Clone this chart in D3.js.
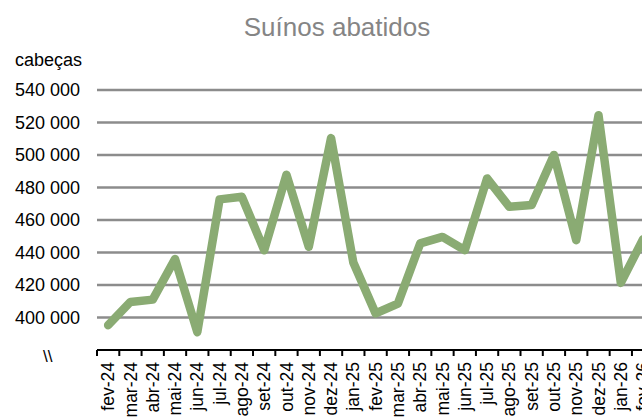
<!DOCTYPE html>
<html>
<head>
<meta charset="utf-8">
<script src="https://cdn.jsdelivr.net/npm/d3@7"></script>
<style>
  html, body { margin: 0; padding: 0; background: #fff; overflow: hidden; }
  svg { display: block; }
</style>
</head>
<body>
<div id="chart"></div>
<script>
const categories = ["fev-24","mar-24","abr-24","mai-24","jun-24","jul-24","ago-24","set-24","out-24","nov-24","dez-24",
  "jan-25","fev-25","mar-25","abr-25","mai-25","jun-25","jul-25","ago-25","set-25","out-25","nov-25","dez-25",
  "jan-26","fev-26"];
const values = [395300, 409600, 411000, 436000, 391000, 472700, 474300, 441400, 487800, 443500, 510400,
  433800, 402500, 408600, 445600, 449600, 441400, 485600, 468100, 469200, 500000, 447600, 524500,
  421300, 448200];
const yTicks = [400000, 420000, 440000, 460000, 480000, 500000, 520000, 540000];
const title = "Suínos abatidos";
const unitLabel = "cabeças";

const W = 642, H = 419;
const svg = d3.select("#chart").append("svg").attr("width", W).attr("height", H);
const font = "'Liberation Sans', Arial, sans-serif";

const x = d3.scaleBand().domain(categories).range([97, 97 + categories.length * 22.29]).paddingInner(0).paddingOuter(0);
const y = d3.scaleLinear().domain([380000, 540000]).range([350, 90]);

// title
svg.append("text").attr("x", 337).attr("y", 36).attr("text-anchor", "middle")
  .attr("font-family", font).attr("font-size", 26).attr("fill", "#858585").text(title);
svg.append("text").attr("x", 15).attr("y", 66)
  .attr("font-family", font).attr("font-size", 18).attr("fill", "#000").text(unitLabel);

// gridlines
svg.append("g").selectAll("line").data(yTicks).join("line")
  .attr("x1", 97).attr("x2", W + 20)
  .attr("y1", d => y(d)).attr("y2", d => y(d))
  .attr("stroke", "#8c8c8c").attr("stroke-width", 2.5);

// y labels
svg.append("g").selectAll("text").data(yTicks).join("text")
  .attr("x", 80).attr("y", d => y(d)).attr("dy", "0.36em").attr("text-anchor", "end")
  .attr("font-family", font).attr("font-size", 18).attr("fill", "#000")
  .text(d => d3.format(",")(d).replace(/,/g, " "));

// axis break mark
svg.append("text").attr("x", 43).attr("y", 362)
  .attr("font-family", font).attr("font-size", 17).attr("fill", "#000").text("\\\\");

// x axis
const xAxis = d3.axisBottom(x).tickSize(0).tickFormat("");
const gx = svg.append("g").attr("transform", `translate(0,${y(380000)})`).call(xAxis);
gx.select(".domain").remove();
svg.append("line").attr("x1", 97).attr("x2", W + 20).attr("y1", y(380000)).attr("y2", y(380000))
  .attr("stroke", "#000").attr("stroke-width", 2.2);
const bounds = d3.range(categories.length + 1).map(i => x.range()[0] + i * x.step());
svg.append("g").selectAll("line").data(bounds).join("line")
  .attr("x1", d => d).attr("x2", d => d)
  .attr("y1", y(380000)).attr("y2", y(380000) + 6)
  .attr("stroke", "#000").attr("stroke-width", 2);

svg.append("g").selectAll("text").data(categories).join("text")
  .attr("transform", d => `translate(${x(d) + x.bandwidth() / 2},362) rotate(-90)`)
  .attr("dy", "0.35em").attr("text-anchor", "end")
  .attr("font-family", font).attr("font-size", 17.5).attr("fill", "#000")
  .text(d => d);

// line
const line = d3.line().x((d, i) => x(categories[i]) + x.bandwidth() / 2).y(d => y(d));
svg.append("path").datum(values)
  .attr("d", line).attr("fill", "none")
  .attr("stroke", "#8aab73").attr("stroke-width", 8.5)
  .attr("stroke-linejoin", "round").attr("stroke-linecap", "round");
</script>
</body>
</html>
